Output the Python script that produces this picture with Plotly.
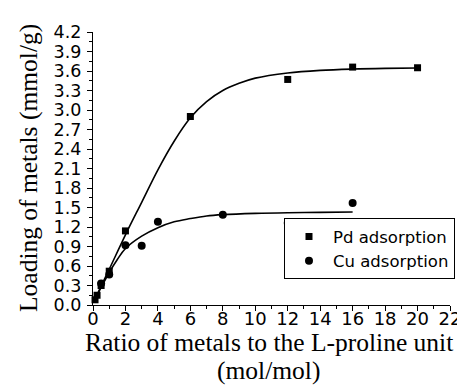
import plotly.graph_objects as go

# Measured data
pd_x = [0.125, 0.25, 0.5, 1, 2, 6, 12, 16, 20]
pd_y = [0.08, 0.15, 0.30, 0.52, 1.14, 2.90, 3.47, 3.66, 3.65]
cu_x = [0.5, 1, 2, 3, 4, 8, 12, 16]
cu_y = [0.33, 0.47, 0.92, 0.91, 1.28, 1.39, 1.26, 1.57]

# Fitted curves
pd_fit_x = [0.1, 0.5, 1, 2, 3, 4, 5, 6, 7, 8, 9, 10, 12, 14, 16, 18, 20]
pd_fit_y = [0.07, 0.29, 0.55, 1.08, 1.58, 2.08, 2.52, 2.88, 3.13, 3.3, 3.41, 3.49, 3.57, 3.61, 3.63, 3.64, 3.645]
cu_fit_x = [0.1, 0.5, 1, 1.5, 2, 3, 4, 5, 6, 7, 8, 10, 12, 14, 16]
cu_fit_y = [0.07, 0.27, 0.5, 0.7, 0.87, 1.06, 1.19, 1.28, 1.33, 1.37, 1.39, 1.41, 1.42, 1.425, 1.43]

x_ticks = [0, 2, 4, 6, 8, 10, 12, 14, 16, 18, 20, 22]
y_ticks = [round(0.3 * i, 1) for i in range(15)]

fig = go.Figure()
fig.add_trace(go.Scatter(x=pd_fit_x, y=pd_fit_y, mode="lines", line=dict(color="black", width=1.6, shape="spline"),
                         showlegend=False, hoverinfo="skip"))
fig.add_trace(go.Scatter(x=cu_fit_x, y=cu_fit_y, mode="lines", line=dict(color="black", width=1.6, shape="spline"),
                         showlegend=False, hoverinfo="skip"))
fig.add_trace(go.Scatter(x=pd_x, y=pd_y, mode="markers", name="Pd adsorption",
                         marker=dict(symbol="square", size=7, color="black"), cliponaxis=False))
fig.add_trace(go.Scatter(x=cu_x, y=cu_y, mode="markers", name="Cu adsorption",
                         marker=dict(symbol="circle", size=8, color="black"), cliponaxis=False))

serif = dict(family="Liberation Serif", size=25.5, color="black")
fig.update_layout(
    width=465, height=388,
    margin=dict(l=85, r=12, t=24, b=91),
    paper_bgcolor="white", plot_bgcolor="white",
    xaxis=dict(range=[0, 22], tickvals=x_ticks, ticks="outside", ticklen=5, tickwidth=1.2,
               showline=True, linecolor="black", linewidth=1.3, showgrid=False, zeroline=False,
               tickfont=dict(family="DejaVu Sans", size=18, color="black"), tickcolor="black",
               ticklabelstandoff=-8,
               minor=dict(dtick=1, ticks="outside", ticklen=3, tickcolor="black", tickwidth=1.2, showgrid=False)),
    yaxis=dict(range=[0, 4.2], tickvals=y_ticks, tickformat=".1f", ticks="outside", ticklen=5, tickwidth=1.2,
               showline=True, linecolor="black", linewidth=1.3, showgrid=False, zeroline=False,
               tickfont=dict(family="DejaVu Sans", size=17.5, color="black"), tickcolor="black",
               ticklabelstandoff=2,
               minor=dict(dtick=0.15, tick0=0, ticks="outside", ticklen=3, tickcolor="black", tickwidth=1.2, showgrid=False)),
    legend=dict(x=0.535, y=0.318, xanchor="left", yanchor="top", bgcolor="white",
                bordercolor="black", borderwidth=1, itemwidth=38,
                font=dict(family="DejaVu Sans", size=16.5, color="black")),
    annotations=[
        dict(text="Ratio of metals to the L-proline unit", xref="paper", yref="paper",
             x=(266 - 85) / 368, y=-(334 - 297) / 273, xanchor="center", yanchor="middle", showarrow=False,
             font=serif),
        dict(text="(mol/mol)", xref="paper", yref="paper",
             x=(266 - 85) / 368, y=-(362 - 297) / 273, xanchor="center", yanchor="middle", showarrow=False,
             font=serif),
        dict(text="Loading of metals (mmol/g)", xref="paper", yref="paper", textangle=-90,
             x=(18 - 85) / 368, y=(297 - 160) / 273, xanchor="center", yanchor="middle", showarrow=False,
             font=serif),
    ],
)
fig.write_html("out.html")
